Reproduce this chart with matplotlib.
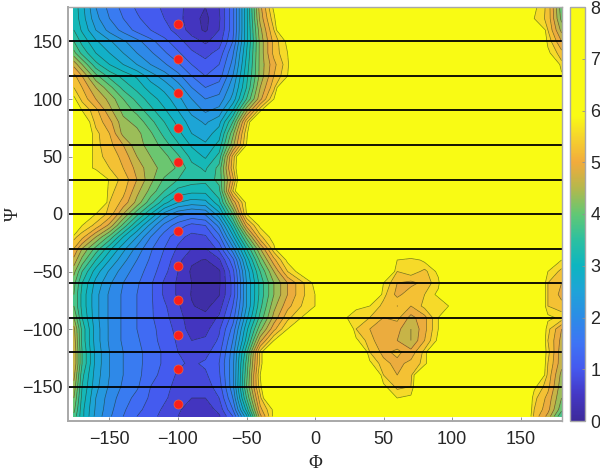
import numpy as np
import matplotlib
matplotlib.use("Agg")
import matplotlib.pyplot as plt
from matplotlib.colors import LinearSegmentedColormap, Normalize
from matplotlib.cm import ScalarMappable

plt.rcParams['font.family'] = ['Liberation Sans', 'DejaVu Sans']

phi = [-176] + list(range(-170, 181, 10))
psi = [-176] + list(range(-170, 181, 10))
FLAT = 7.0

psi_rows = [180,170,160,150,140,130,120,110,100,90,80,70,60,50,40,30,20,10,0,
            -10,-20,-30,-40,-50,-60,-70,-80,-90,-100,-110,-120,-130,-140,-150,-160,-170,-176]
basin_rows = [
 [3.2,2.8,2.1,1.7,1.4,1.15,1.0,.85,.7,.45,.3,.6,1.4,2.9,4.7,5.8],
 [3.2,2.85,2.2,1.8,1.5,1.25,1.05,.9,.7,.42,.22,.55,1.4,2.9,4.6,5.6],
 [3.3,2.95,2.4,2.0,1.7,1.4,1.2,1.0,.8,.45,.25,.6,1.4,2.9,4.4,5.4],
 [3.6,3.2,2.75,2.45,2.15,1.9,1.6,1.3,1.0,.75,.55,.75,1.5,2.9,4.3,5.2,5.8],
 [4.0,3.5,3.0,2.7,2.4,2.1,1.85,1.55,1.25,.95,.8,1.0,1.75,3.0,4.3,5.2,5.7],
 [4.7,4.2,3.4,3.0,2.7,2.4,2.1,1.85,1.55,1.2,1.0,1.2,1.9,3.1,4.3,5.0,5.6],
 [5.2,4.8,4.0,3.5,3.2,2.95,2.55,2.25,1.9,1.5,1.2,1.35,2.1,3.2,4.3,5.1,5.7],
 [5.4,5.1,4.5,4.0,3.5,3.2,2.85,2.6,2.25,1.8,1.5,1.65,2.3,3.3,4.5,5.3],
 [5.8,5.3,4.8,4.4,3.9,3.5,3.15,2.85,2.5,2.1,1.8,1.9,2.5,3.6,4.7,5.7],
 [7,5.7,5.2,4.6,4.1,3.8,3.4,3.05,2.7,2.3,2.05,2.2,3.0,4.4,5.6],
 [7,6.2,5.3,4.9,4.3,4.1,3.7,3.3,2.9,2.55,2.35,2.6,3.6,5.3],
 [7,6.3,5.5,5.1,4.4,4.3,3.95,3.5,3.1,2.7,2.55,2.85,4.1,5.6],
 [7,6.3,5.5,5.2,4.8,4.3,4.1,3.75,3.35,2.95,2.75,3.1,4.4,5.7],
 [7,6.3,5.5,5.3,5.0,4.5,4.2,4.0,3.65,3.2,2.95,3.4,5.2],
 [7,6.3,5.5,5.4,5.1,4.7,4.3,4.1,3.85,3.4,3.25,3.7,5.3],
 [7,7,7,5.6,5.3,4.8,4.3,3.85,3.6,3.45,3.4,3.7,5.0],
 [7,7,7,5.5,5.2,4.6,4.1,3.6,3.2,3.1,3.1,3.5,5.4],
 [7,7,7,5.4,5.0,4.4,3.7,3.1,2.7,2.55,2.6,3.2,4.6,5.8],
 [7,7,5.7,5.3,4.5,3.7,3.0,2.3,1.9,1.75,1.85,2.6,3.9,5.7],
 [7,5.7,5.3,4.7,3.8,3.0,2.3,1.7,1.35,1.1,1.2,1.9,3.2,4.9,5.8],
 [5.5,5.2,4.5,3.8,3.0,2.4,1.8,1.35,1.0,.8,.85,1.4,2.6,4.0,5.3,5.9],
 [5.1,4.5,3.8,3.1,2.5,2.0,1.55,1.2,.85,.6,.6,1.0,2.0,3.3,4.5,5.6],
 [4.7,4.1,3.3,2.7,2.2,1.8,1.45,1.1,.7,.35,.28,.55,1.4,2.8,4.0,5.0,5.8],
 [4.3,3.6,2.85,2.35,1.95,1.65,1.35,1.0,.6,.25,.12,.25,1.1,2.5,3.6,4.5,5.4,5.9],
 [4.0,3.3,2.6,2.15,1.8,1.55,1.25,.85,.55,.3,.15,.25,1.0,2.4,3.4,4.2,4.8,5.3,5.8],
 [3.9,3.2,2.5,2.05,1.75,1.5,1.25,.85,.55,.28,.15,.28,1.0,2.4,3.4,4.2,4.8,5.3,5.7],
 [3.9,3.2,2.5,2.05,1.75,1.5,1.25,.95,.65,.32,.22,.45,1.2,2.4,3.5,4.4,5.0,5.4,5.7],
 [4.2,3.3,2.5,2.05,1.75,1.5,1.25,1.0,.72,.42,.38,.65,1.35,2.6,3.7,4.6,5.3,5.7],
 [4.6,3.5,2.55,2.05,1.75,1.5,1.3,1.05,.8,.45,.5,.85,1.6,2.9,4.1,5.0,5.7],
 [4.7,3.5,2.55,2.05,1.75,1.55,1.3,1.1,.85,.6,.65,.95,1.8,3.1,4.7,5.7],
 [4.8,3.6,2.6,2.1,1.8,1.6,1.35,1.15,.9,.75,.8,1.1,1.95,3.5,5.5],
 [4.8,3.6,2.6,2.1,1.8,1.6,1.35,1.15,.95,.85,.95,1.2,2.0,3.7,5.5],
 [4.6,3.4,2.55,2.1,1.8,1.6,1.3,1.1,.85,.8,.85,1.15,2.0,3.8,5.7],
 [4.4,3.3,2.5,2.05,1.75,1.55,1.2,1.0,.8,.7,.75,1.05,2.0,3.9,5.6],
 [4.2,3.2,2.4,1.95,1.65,1.4,1.15,.95,.75,.6,.6,.9,1.8,3.6,5.3],
 [4.0,3.1,2.35,1.9,1.55,1.3,1.05,.85,.65,.45,.42,.7,1.5,3.1,5.0,5.8],
 [3.8,3.1,2.3,1.85,1.5,1.2,1.0,.8,.6,.4,.35,.55,1.2,2.6,4.7,5.8],
]

island_phi = [20,30,40,50,60,70,80,90,100]
island_psi = [-40,-50,-60,-70,-80,-90,-100,-110,-120,-130,-140,-150,-160]
island_rows = [
 [7,7,7,7,5.7,5.5,5.8,7,7],
 [7,7,7,7,5.4,5.6,5.3,5.8,7],
 [7,7,7,5.7,5.1,5.0,5.2,5.6,7],
 [7,7,7,5.5,5.0,5.3,5.4,5.8,7],
 [7,5.8,5.7,5.3,5.4,5.1,5.5,5.4,5.8],
 [5.8,5.5,5.4,5.1,5.2,4.7,5.0,5.7,7],
 [7,5.4,5.1,4.9,4.9,4.5,5.0,5.7,5.8],
 [7,5.8,5.2,4.9,4.8,4.5,5.1,5.8,7],
 [7,7,5.4,5.0,5.2,4.9,5.5,7,7],
 [7,7,5.8,5.2,5.0,5.2,5.5,7,7],
 [7,7,7,5.4,5.1,5.3,7,7,7],
 [7,7,7,5.8,5.3,5.4,7,7,7],
 [7,7,7,7,5.7,5.8,7,7,7],
]

edge_phi = [160,170,180]
edge_psi = [180,170,160,150,140,130,120,-40,-50,-60,-70,-80,-90,-100,-110,-120,-130,-140,-150,-160,-170,-176]
edge_rows = [
 [5.8,5.3,4.0],[5.7,5.3,4.1],[7,5.4,4.4],[7,5.6,4.8],[7,5.8,5.2],[7,7,5.5],[7,7,5.8],
 [7,7,5.7],[7,5.7,5.3],[7,5.4,5.1],[7,5.4,5.0],[7,5.4,5.2],[7,5.8,5.6],[7,5.5,4.8],
 [7,5.4,4.7],[7,5.5,4.6],[7,5.4,4.6],[7,5.3,4.4],[5.8,5.2,4.3],[5.5,5.0,4.2],[5.4,4.9,4.0],[5.3,4.7,3.6],
]

hlines_psi = [150,120,90,60,30,0,-30,-60,-90,-120,-150]
dots_phi = [-100]*12
dots_psi = [165,135,105,75,45,15,-15,-45,-75,-105,-135,-165]
xticks = [-150,-100,-50,0,50,100,150]
yticks = [-150,-100,-50,0,50,100,150]
cbar_ticks = [0,1,2,3,4,5,6,7,8]

anchor_vals = [0,0.5,1,1.5,2,2.5,3,3.5,4,4.5,5,5.5,5.9,8]
anchor_cols = ['#3d2a9a','#4437c4','#4558ee','#3e74f5','#2c8ce6','#1fa3d8','#0db5c0','#2cc0a0',
               '#62c874','#b4b84c','#f2ab3c','#f6d52c','#f9fb14','#f9fb14']

Z = np.full((len(psi), len(phi)), FLAT)
for p, vals in zip(psi_rows, basin_rows):
    Z[psi.index(p), :len(vals)] = vals
for p, vals in zip(island_psi, island_rows):
    for f, v in zip(island_phi, vals):
        Z[psi.index(p), phi.index(f)] = v
for p, vals in zip(edge_psi, edge_rows):
    for f, v in zip(edge_phi, vals):
        Z[psi.index(p), phi.index(f)] = v

cmap = LinearSegmentedColormap.from_list('par', [(v/8, c) for v, c in zip(anchor_vals, anchor_cols)], N=512)
norm = Normalize(0, 8)
levels = np.append(np.arange(0, 5.95, 0.3), 8.0)

fig = plt.figure(figsize=(6, 4.72), dpi=100)
W, H = 600, 472
ax = fig.add_axes([68.4/W, 1-421/H, (561.6-68.4)/W, (421-7)/H])
ax.contourf(phi, psi, Z, levels=levels, cmap=cmap, norm=norm)
ax.contour(phi, psi, Z, levels=levels[1:-1], colors='#222222', linewidths=0.5, alpha=0.6)
for y in hlines_psi:
    ax.plot([-180, 180], [y, y], color='black', lw=1.3, solid_capstyle='butt')
ax.plot(dots_phi, dots_psi, 'o', color='#fb1f1a', ms=6.5, mec='#f2603a', mew=0.5, ls='none')
ax.set_xlim(-180, 180)
ax.set_ylim(-180, 180)
ax.set_xticks(xticks)
ax.set_yticks(yticks)
ax.tick_params(direction='in', length=3, width=0.7, color='#909090', labelsize=13,
               labelcolor='#262626', top=False, right=False)
ax.tick_params(axis='x', pad=7)
ax.tick_params(axis='y', pad=4)
for s in ax.spines.values():
    s.set_color('#a8a8a8')
    s.set_linewidth(1.0)
ax.spines['left'].set_linewidth(1.4)
ax.spines['bottom'].set_linewidth(1.4)
ax.set_xlabel('Φ', fontsize=13.5, family=['Liberation Serif', 'DejaVu Serif'], color='#262626', va='center')
ax.set_ylabel('Ψ', fontsize=13.5, family=['Liberation Serif', 'DejaVu Serif'], color='#262626', va='center')
ax.xaxis.set_label_coords(0.5, (421-464)/414)
ax.yaxis.set_label_coords((13-68.4)/493.2, 0.5)

cax = fig.add_axes([570/W, 1-421/H, 15/W, (421-7)/H])
cb = fig.colorbar(ScalarMappable(norm=norm, cmap=cmap), cax=cax, ticks=cbar_ticks)
cb.ax.tick_params(direction='in', length=2.5, width=0.6, color='#909090', labelsize=13,
                  labelcolor='#262626', pad=4)
cb.outline.set_edgecolor('#a8a8a8')
cb.outline.set_linewidth(1.0)
fig.savefig('out.png', dpi=100)
